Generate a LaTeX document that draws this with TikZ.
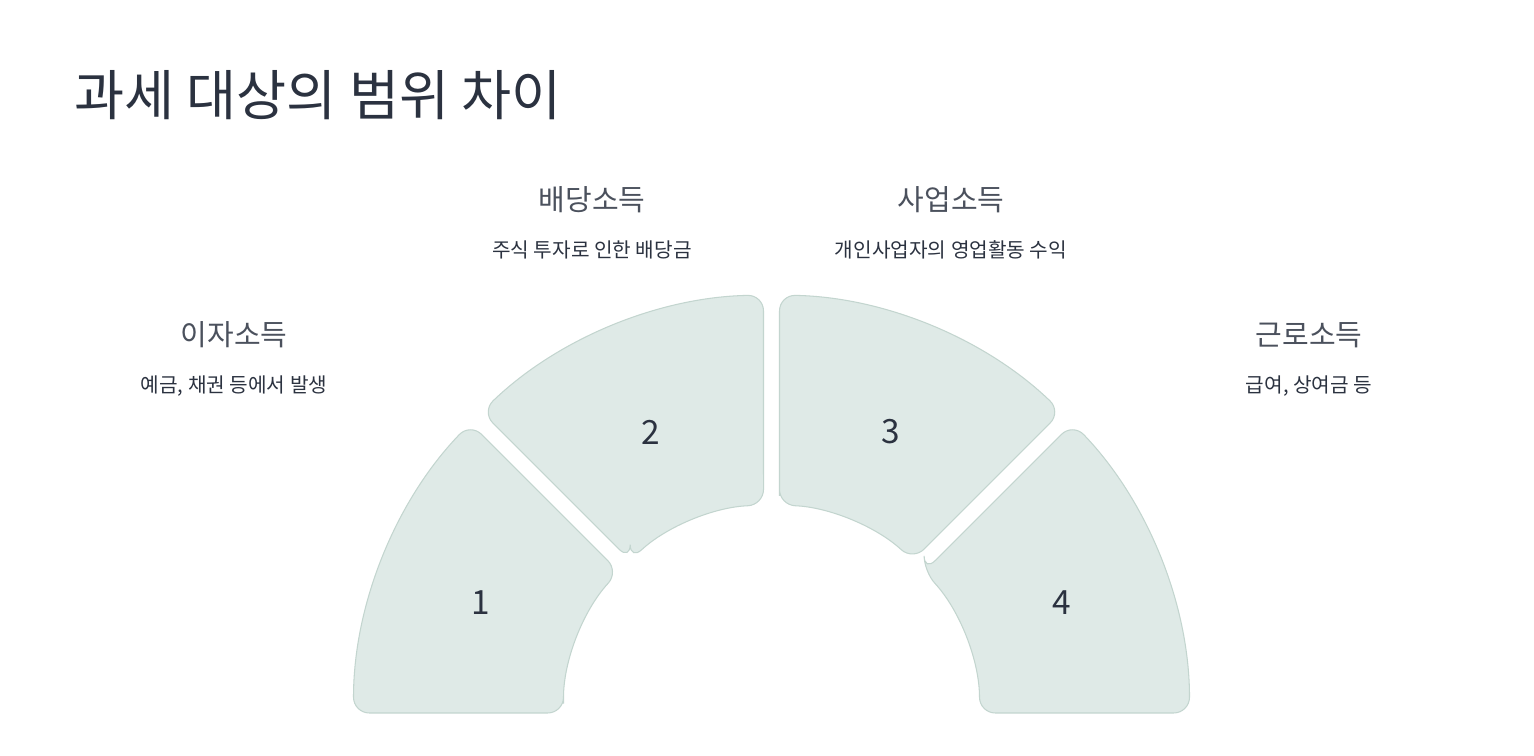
\documentclass[tikz,border=0pt]{standalone}
\usepackage{fontspec}
\newfontfamily\kr{Noto Sans CJK KR}
\definecolor{segfill}{HTML}{DFEAE7}
\definecolor{segline}{HTML}{C3D5CF}
\definecolor{ink}{HTML}{2B3240}
\begin{document}
\begin{tikzpicture}[x=0.02cm,y=0.02cm,
  seg/.style={fill=segfill,draw=segline,line width=0.6pt,rounded corners=9pt},
  num/.style={text=ink,font=\kr\fontsize{19}{19}\selectfont},
  head/.style={text=ink!85,font=\kr\fontsize{16.5}{18}\selectfont},
  sub/.style={text=ink,font=\kr\fontsize{11.5}{13}\selectfont}]
\useasboundingbox (0,0) rectangle (1534,756);
\fill[white] (0,0) rectangle (1534,756);
\coordinate (c) at (771.5,43);
% segment 1
\draw[seg] ([shift={(180:208)}]c) -- ([shift={(180:418)}]c) arc[start angle=180,end angle=136.1,radius=418]
  -- ([shift={(137.2:208)}]c) arc[start angle=137.2,end angle=180,radius=208] -- cycle;
% segment 2
\draw[seg] ([shift={(132.8:208)}]c) -- ([shift={(133.9:418)}]c) arc[start angle=133.9,end angle=91.1,radius=418]
  -- ([shift={(92.2:208)}]c) arc[start angle=92.2,end angle=132.8,radius=208] -- cycle;
% segment 3
\draw[seg] ([shift={(87.8:208)}]c) -- ([shift={(88.9:418)}]c) arc[start angle=88.9,end angle=46.1,radius=418]
  -- ([shift={(47.2:208)}]c) arc[start angle=47.2,end angle=87.8,radius=208] -- cycle;
% segment 4
\draw[seg] ([shift={(42.8:208)}]c) -- ([shift={(43.9:418)}]c) arc[start angle=43.9,end angle=0,radius=418]
  -- ([shift={(0:208)}]c) arc[start angle=0,end angle=42.8,radius=208] -- cycle;
\node[num] (n1) at (481,153) {1};
\node[num] (n2) at (651,324) {2};
\node[num] (n3) at (891,324) {3};
\node[num] (n4) at (1062,153) {4};
\node[anchor=west,text=ink,font=\kr\fontsize{31}{34}\selectfont] (title) at (68,661) {과세 대상의 범위 차이};
\node[head] (h2) at (592,556) {배당소득};
\node[sub] (s2) at (592,506) {주식 투자로 인한 배당금};
\node[head] (h3) at (951,556) {사업소득};
\node[sub] (s3) at (951,506) {개인사업자의 영업활동 수익};
\node[head] (h1) at (234,421) {이자소득};
\node[sub] (s1) at (234,370) {예금, 채권 등에서 발생};
\node[head] (h4) at (1309,421) {근로소득};
\node[sub] (s4) at (1309,370) {급여, 상여금 등};
\end{tikzpicture}
\end{document}
